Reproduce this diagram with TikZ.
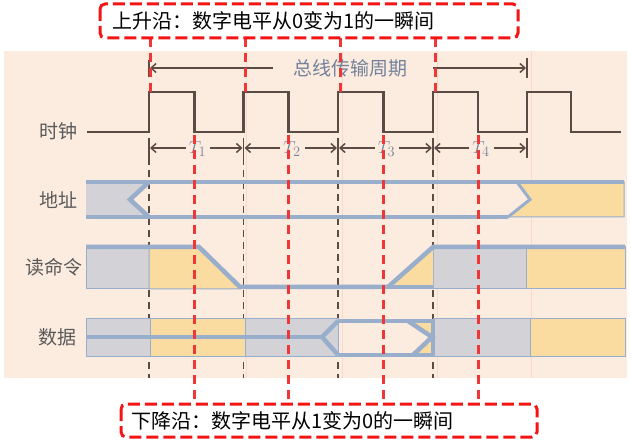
\documentclass[tikz,border=0pt]{standalone}
\usepackage{fontspec}
\newfontfamily\cjk{Noto Sans CJK SC}
\usetikzlibrary{arrows.meta}
\definecolor{bg}{RGB}{252,235,223}
\definecolor{panel}{RGB}{247,218,203}
\definecolor{bus}{RGB}{152,174,203}
\definecolor{gfill}{RGB}{211,211,215}
\definecolor{yfill}{RGB}{250,219,160}
\definecolor{clk}{RGB}{90,76,68}
\definecolor{redd}{RGB}{240,55,55}
\definecolor{boxred}{RGB}{245,20,20}
\definecolor{lbl}{RGB}{90,90,90}
\definecolor{tlbl}{RGB}{115,130,155}
\tikzset{
  clkline/.style={clk, line width=2.4pt},
  blkdash/.style={clk, line width=1.8pt, dash pattern=on 7pt off 5pt},
  reddash/.style={redd, line width=3pt, dash pattern=on 9pt off 6pt},
  boxdash/.style={boxred, line width=3pt, dash pattern=on 12pt off 5pt, rounded corners=5pt},
  thickbus/.style={bus, line width=4.5pt, line join=miter},
  thinbus/.style={bus, line width=1pt},
  gcell/.style={fill=gfill, draw=bus, line width=1pt},
  ycell/.style={fill=yfill, draw=bus, line width=1pt},
  rowlbl/.style={font=\cjk\fontsize{19}{22}\selectfont, text=lbl, inner sep=0pt},
  tlab/.style={font=\fontsize{19}{22}\selectfont, text=tlbl, inner sep=0pt},
  darr/.style={clk, line width=1.5pt, -{Straight Barb[length=5pt,width=9pt]}},
  tick/.style={clk, line width=1.5pt},
  boxtext/.style={font=\cjk\fontsize{20}{24}\selectfont, text=black, inner sep=0pt, anchor=west}
}
\begin{document}
\begin{tikzpicture}[x=1pt,y=-1pt]
\useasboundingbox (0,0) rectangle (631,443);
\fill[white] (0,0) rectangle (631,443);
\fill[bg] (4,51) rectangle (627,378);
\foreach \px in {246,342,437,531} \draw[panel, line width=1pt] (\px,51) -- (\px,378);

% clock
\node[rowlbl] (lclk) at (58,131) {时钟};
\draw[clkline] (87,132) -- (149,132) -- (149,92) -- (194.5,92) -- (194.5,132) -- (243.5,132) -- (243.5,92) -- (288.5,92) -- (288.5,132) -- (338,132) -- (338,92) -- (383.5,92) -- (383.5,132) -- (433,132) -- (433,92) -- (478,92) -- (478,132) -- (527,132) -- (527,92) -- (571,92) -- (571,132) -- (621,132);

% edge coordinates
\coordinate (e0) at (149,148);
\coordinate (e1) at (243.5,148);
\coordinate (e2) at (338,148);
\coordinate (e3) at (433,148);
\coordinate (e4) at (527,148);

% bus period arrow
\node[tlab, font=\cjk\fontsize{19}{22}\selectfont] (period) at (350,68) {总线传输周期};
\coordinate (pl) at (149,68);
\coordinate (pr) at (527,68);
\draw[tick] (149,60) -- (149,77);
\draw[tick] (527,58) -- (527,78);
\draw[darr] (period.west) ++(-20,0) -- ([xshift=1pt]pl);
\draw[darr] (period.east) ++(26,0) -- ([xshift=-1pt]pr);

% T arrows
\foreach \a/\b/\n/\m in {e0/e1/1/197.5, e1/e2/2/292, e2/e3/3/386.5, e3/e4/4/481}{
  \node[tlab] (T\n) at (\m,149) {$T_{\n}$};
  \draw[darr] (\m-12,148) -- ([xshift=1pt]\a);
  \draw[darr] (\m+12.5,148) -- ([xshift=-1pt]\b);
}
\foreach \px in {149,243.5,338,433,527} \draw[tick] (\px,138) -- (\px,158);

% black dashed verticals
\foreach \px in {149,243.5,338,433} \draw[blkdash] (\px,158) -- (\px,378);

% address row
\node[rowlbl] (laddr) at (58,200) {地址};
\fill[gfill] (86,182) -- (149,182) -- (130,199.5) -- (149,217) -- (86,217) -- cycle;
\draw[ycell] (517,182) -- (530,199.5) -- (508,217) -- (624,217) -- (624,182) -- cycle;
\draw[thickbus] (86,182) -- (624,182);
\draw[thickbus] (86,217) -- (508,217);
\draw[bus, line width=3pt] (517,182) -- (530,199.5) -- (508,217);
\draw[thickbus] (149,182) -- (130,199.5) -- (149,217);

% read command row
\node[rowlbl] (lrd) at (54,267) {读命令};
\draw[gcell] (86,247) rectangle (149,289);
\draw[ycell] (149,247) -- (199,247) -- (240,289) -- (149,289) -- cycle;
\draw[gcell] (433,247) rectangle (526,289);
\draw[ycell] (526,247) rectangle (625,289);
\fill[yfill] (390,287) -- (433,249) -- (433,287) -- cycle;
\draw[thickbus] (86,247) -- (199,247) -- (240,287) -- (388,287) -- (433,247) -- (625,247);
\draw[thickbus] (388,287) -- (433,287);

% data row
\node[rowlbl] (ldat) at (57.5,337) {数据};
\draw[gcell] (86,318) rectangle (150,356);
\draw[ycell] (150,318) rectangle (245,356);
\draw[gcell] (245,318) rectangle (338,356);
\draw[gcell] (433,318) rectangle (530,356);
\draw[ycell] (530,318) rectangle (625,356);
\fill[yfill] (410,321) -- (433,321) -- (433,336) -- cycle;
\fill[yfill] (414,355) -- (433,355) -- (433,339) -- cycle;
\draw[thickbus] (86,337) -- (322,337);
\draw[thickbus] (338,321) -- (322,337) -- (338,355);
\draw[thickbus] (338,321) -- (433,321) -- (433,355) -- (338,355);
\draw[thickbus] (408,321) -- (432,337) -- (413,355);

% red dashed lines
\foreach \px in {150,245.5,340,435} \draw[reddash] (\px,38) -- (\px,92);
\foreach \px in {194.5,288.5,383.5,478} \draw[reddash] (\px,135) -- (\px,404);

% callout boxes
\draw[boxdash] (100,4) rectangle (518,38);
\node[boxtext] (rise) at (112,21) {上升沿：数字电平从0变为1的一瞬间};
\draw[boxdash] (121,404) rectangle (537,437);
\node[boxtext] (fall) at (131,421) {下降沿：数字电平从1变为0的一瞬间};
\end{tikzpicture}
\end{document}
